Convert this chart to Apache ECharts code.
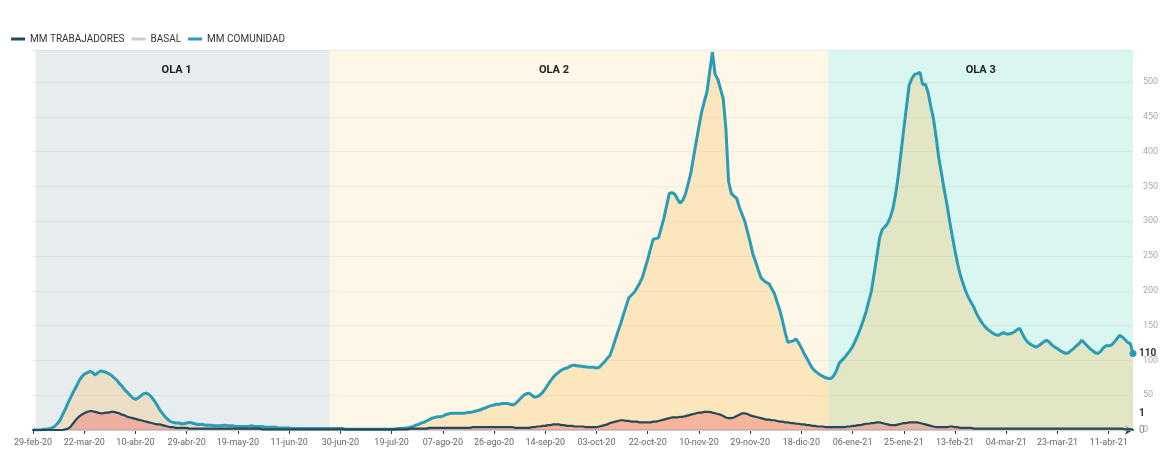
<!DOCTYPE html>
<html>
<head>
<meta charset="utf-8">
<script src="https://cdn.jsdelivr.net/npm/echarts@6/dist/echarts.min.js"></script>
<style>
  html, body { margin: 0; padding: 0; background: #fff; }
  #chart { width: 1165px; height: 456px; }
</style>
</head>
<body>
<div id="chart"></div>
<script>
// datos (media móvil diaria)
const startDate = '2020-02-29';
const skippedDays = ['2020-03-01', '2020-03-07', '2020-03-08', '2020-05-03',
  '2020-05-24', '2020-05-31', '2020-06-01', '2020-06-07'];
const monthNames = ['ene', 'feb', 'mar', 'abr', 'may', 'jun', 'jul', 'ago', 'sep', 'oct', 'nov', 'dic'];

const comunidad = [
  0, 0, 0, 0, 1, 1, 2, 3, 5, 9, 14, 22, 30, 39, 47, 55, 62, 70, 76,
  80, 82, 84, 83, 79, 82, 85, 84, 83, 81, 79, 75, 72, 67, 63, 58, 54, 50, 46,
  44, 46, 49, 52, 53, 51, 47, 42, 36, 29, 24, 19, 15, 12, 11, 10, 10, 9, 9,
  10, 11, 10, 9, 8, 8, 8, 7, 7, 7, 6, 6, 6, 6, 7, 6, 6, 6, 5,
  5, 5, 5, 5, 5, 6, 5, 5, 5, 5, 4, 4, 4, 4, 4, 3, 3, 3, 3,
  3, 2, 2, 2, 2, 2, 2, 2, 2, 2, 2, 2, 2, 2, 2, 2, 2, 2, 2,
  2, 2, 1, 1, 1, 1, 1, 1, 1, 1, 1, 1, 1, 1, 1, 1, 1, 1, 1,
  1, 1, 2, 2, 2, 3, 3, 4, 5, 7, 8, 10, 11, 13, 15, 17, 18, 19, 19,
  20, 22, 23, 24, 24, 24, 24, 24, 24, 25, 25, 26, 27, 28, 29, 31, 32, 34, 35,
  36, 37, 37, 38, 38, 38, 37, 36, 38, 42, 46, 50, 52, 53, 50, 47, 48, 50, 54,
  59, 65, 71, 76, 80, 83, 86, 88, 89, 91, 93, 93, 92, 92, 91, 91, 90, 90, 90,
  89, 90, 94, 98, 103, 107, 118, 130, 142, 153, 166, 178, 190, 194, 198, 204, 211, 219, 232,
  245, 260, 274, 275, 276, 290, 304, 322, 340, 341, 339, 332, 326, 330, 339, 354, 369, 392, 414,
  436, 457, 472, 486, 515, 543, 511, 504, 490, 476, 433, 357, 340, 336, 333, 320, 310, 300, 285,
  270, 253, 242, 230, 219, 215, 212, 210, 203, 196, 184, 172, 157, 140, 126, 127, 128, 131, 125,
  118, 110, 103, 96, 89, 85, 82, 79, 77, 75, 74, 74, 78, 85, 96, 100, 104, 109, 114,
  120, 128, 137, 147, 158, 170, 185, 200, 225, 250, 276, 288, 292, 297, 306, 319, 340, 367, 400,
  433, 465, 496, 505, 511, 512, 514, 496, 497, 485, 465, 447, 420, 390, 368, 345, 324, 300, 278,
  257, 238, 222, 210, 199, 190, 183, 176, 167, 160, 154, 149, 145, 142, 139, 137, 136, 138, 140,
  138, 138, 139, 141, 144, 146, 138, 131, 126, 123, 121, 119, 121, 124, 127, 129, 126, 122, 119,
  117, 114, 112, 110, 111, 114, 117, 121, 124, 129, 125, 121, 117, 114, 111, 110, 113, 118, 121,
  121, 122, 126, 131, 136, 134, 130, 126, 124, 110
];

const trabajadores = [
  0, 0, 0, 0, 0, 0, 0, 0, 0, 0, 0, 0, 1, 2, 5, 10, 15, 19, 22,
  24, 26, 27, 27, 26, 25, 24, 24, 25, 25, 26, 26, 25, 24, 22, 21, 19, 18, 17,
  16, 15, 14, 13, 12, 11, 10, 9, 8, 8, 7, 6, 5, 4, 4, 3, 3, 3, 3,
  3, 2, 2, 2, 2, 2, 2, 2, 2, 2, 2, 2, 2, 2, 2, 2, 2, 2, 2,
  2, 2, 2, 2, 2, 2, 2, 2, 2, 1, 1, 1, 1, 1, 1, 1, 1, 1, 1,
  1, 1, 1, 1, 1, 1, 1, 1, 1, 1, 1, 1, 1, 1, 1, 1, 1, 1, 1,
  1, 1, 1, 1, 1, 1, 1, 1, 1, 1, 1, 1, 1, 1, 1, 1, 1, 1, 1,
  1, 1, 1, 1, 1, 1, 1, 2, 2, 2, 2, 2, 2, 2, 3, 3, 3, 3, 3,
  3, 3, 3, 3, 3, 3, 3, 3, 3, 3, 3, 4, 4, 4, 4, 4, 4, 4, 4,
  4, 4, 4, 4, 4, 4, 4, 4, 3, 3, 3, 3, 3, 3, 4, 4, 5, 5, 6,
  6, 7, 7, 8, 8, 8, 7, 7, 6, 6, 6, 5, 5, 5, 5, 4, 4, 4, 4,
  4, 5, 6, 7, 8, 10, 11, 12, 13, 14, 14, 13, 13, 12, 12, 12, 11, 11, 11,
  11, 11, 12, 12, 13, 14, 15, 16, 17, 18, 18, 18, 19, 19, 20, 21, 22, 23, 24,
  25, 25, 26, 26, 26, 25, 24, 23, 22, 20, 18, 17, 17, 18, 20, 22, 24, 24, 23,
  21, 20, 19, 18, 17, 16, 15, 15, 14, 14, 13, 12, 12, 11, 11, 10, 10, 9, 9,
  8, 8, 7, 7, 6, 6, 5, 5, 5, 4, 4, 4, 4, 4, 4, 4, 4, 5, 5,
  6, 6, 7, 7, 8, 9, 9, 10, 10, 11, 11, 10, 9, 8, 7, 7, 7, 8, 9,
  10, 10, 11, 11, 11, 11, 10, 9, 8, 7, 6, 5, 4, 4, 4, 4, 4, 5, 5,
  4, 4, 3, 3, 3, 3, 3, 2, 2, 2, 2, 2, 2, 2, 2, 2, 2, 2, 2,
  2, 2, 2, 2, 2, 2, 2, 2, 2, 2, 2, 2, 2, 2, 2, 2, 2, 2, 2,
  2, 2, 2, 2, 2, 2, 2, 2, 2, 2, 2, 2, 2, 2, 2, 2, 2, 2, 2,
  2, 2, 2, 2, 2, 2, 1, 1, 1, 1
];

// basal: línea en 0 (primer y último día)
const basal = [0, 0];

const olaNames = ['OLA 1', 'OLA 2', 'OLA 3'];
const olaStart = ['02-mar-20', '26-jun-20', '28-dic-20'];
const olaEnd = ['26-jun-20', '28-dic-20', '20-abr-21'];

// fechas del eje (faltan algunos días al principio)
const categories = [];
let t = Date.parse(startDate + 'T00:00:00Z');
while (categories.length < comunidad.length) {
  const d = new Date(t);
  const iso = d.toISOString().slice(0, 10);
  if (!skippedDays.includes(iso)) {
    const dd = String(d.getUTCDate()).padStart(2, '0');
    const yy = String(d.getUTCFullYear()).slice(2);
    categories.push(dd + '-' + monthNames[d.getUTCMonth()] + '-' + yy);
  }
  t += 86400000;
}
const last = categories.length - 1;

const olaColors = ['rgba(207,217,223,0.5)', 'rgba(253,237,205,0.5)', 'rgba(179,239,225,0.5)'];
const olaOffsets = [-6, -25, 0];

const myChart = echarts.init(document.getElementById('chart'));
myChart.setOption({
  animation: false,
  textStyle: { fontFamily: 'Roboto, sans-serif' },
  legend: {
    left: 6,
    top: 29,
    icon: 'rect',
    itemWidth: 14,
    itemHeight: 3,
    itemGap: 7,
    textStyle: { fontSize: 10, color: '#333' },
    data: ['MM TRABAJADORES', 'BASAL', 'MM COMUNIDAD']
  },
  grid: { left: 33, right: 32, top: 50, bottom: 26 },
  xAxis: {
    type: 'category',
    data: categories,
    boundaryGap: false,
    axisLine: {
      lineStyle: { color: '#1f3f4f', width: 2 },
      symbol: ['none', 'arrow'],
      symbolSize: [7, 8]
    },
    axisTick: { interval: 18, length: 4, lineStyle: { color: '#1f3f4f' } },
    axisLabel: { interval: 18, fontSize: 9, color: '#666', margin: 8 },
    splitLine: { show: false }
  },
  yAxis: {
    type: 'value',
    position: 'right',
    min: 0,
    max: 546,
    interval: 50,
    axisLine: { show: false },
    axisTick: { show: false },
    axisLabel: { fontSize: 9, color: '#aaa', margin: 10, showMaxLabel: false },
    splitLine: { lineStyle: { color: '#e6e6e6' } }
  },
  series: [
    {
      name: 'BASAL',
      type: 'line',
      data: [[categories[0], basal[0]], [categories[last], basal[1]]],
      showSymbol: false,
      lineStyle: { color: '#cccccc', width: 2 },
      itemStyle: { color: '#cccccc' },
      endLabel: { show: true, formatter: p => p.value[1], color: '#888', fontSize: 10, distance: 6 },
      markArea: {
        silent: true,
        data: olaNames.map((name, i) => [
          {
            name: name,
            xAxis: olaStart[i],
            itemStyle: { color: olaColors[i] },
            label: { offset: [olaOffsets[i], 0] }
          },
          { xAxis: olaEnd[i] }
        ]),
        label: {
          show: true,
          position: 'insideTop',
          distance: 15,
          color: '#222',
          fontSize: 11,
          fontWeight: 'bold'
        }
      }
    },
    {
      name: 'MM COMUNIDAD',
      type: 'line',
      data: comunidad,
      showSymbol: false,
      z: 3,
      lineStyle: { color: '#2b9cb6', width: 3 },
      itemStyle: { color: '#2b9cb6' },
      areaStyle: { color: 'rgba(249,190,95,0.42)' },
      endLabel: { show: true, color: '#333', fontSize: 10, fontWeight: 'bold', distance: 6 },
      markPoint: {
        silent: true,
        symbol: 'circle',
        symbolSize: 7,
        label: { show: false },
        itemStyle: { color: '#2b9cb6' },
        data: [{ coord: [categories[last], comunidad[last]] }]
      }
    },
    {
      name: 'MM TRABAJADORES',
      type: 'line',
      data: trabajadores,
      showSymbol: false,
      z: 4,
      lineStyle: { color: '#24495a', width: 2.2 },
      itemStyle: { color: '#24495a' },
      areaStyle: { color: 'rgba(238,100,100,0.55)' },
      endLabel: { show: true, color: '#333', fontSize: 10, fontWeight: 'bold', distance: 6, offset: [0, -16] }
    }
  ]
});
</script>
</body>
</html>
